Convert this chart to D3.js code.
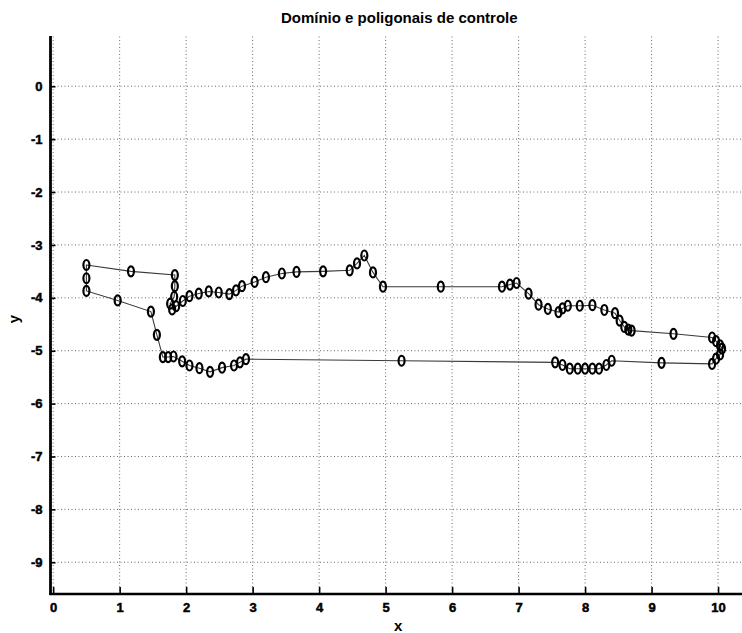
<!DOCTYPE html>
<html>
<head>
<meta charset="utf-8">
<script src="https://cdn.jsdelivr.net/npm/d3@7"></script>
<style>
  html, body { margin: 0; padding: 0; background: #fff; }
  svg { display: block; }
  text { font-family: "Liberation Sans", Arial, sans-serif; fill: #000; }
</style>
</head>
<body>
<svg id="chart" width="742" height="633"></svg>
<script>
// Boundary of the domain, traced clockwise from the upper-left corner
const boundaryX = [
  0.50, 1.17, 1.83, 1.83, 1.82, 1.76, 1.85, 1.79, 1.95, 2.05, 2.19, 2.34, 2.49, 2.65,
  2.75, 2.84, 3.03, 3.20, 3.44, 3.66, 4.06, 4.46, 4.57, 4.68, 4.81, 4.96, 5.83, 6.75,
  6.87, 6.97, 7.15, 7.30, 7.44, 7.60, 7.66, 7.74, 7.92, 8.11, 8.29, 8.45, 8.52, 8.59,
  8.65, 8.70, 9.33, 9.91, 9.97, 10.03, 10.06, 10.03, 9.97, 9.91,
  9.15, 8.40, 8.32, 8.21, 8.11, 8.00, 7.89, 7.77, 7.66, 7.55, 5.24, 2.90, 2.81, 2.72,
  2.54, 2.36, 2.20, 2.05, 1.94, 1.81, 1.73, 1.65, 1.56, 1.47, 0.97, 0.50, 0.50
];
const boundaryY = [
  -3.38, -3.50, -3.57, -3.78, -3.98, -4.11, -4.16, -4.22, -4.06, -3.97, -3.92, -3.88, -3.90, -3.93,
  -3.86, -3.78, -3.70, -3.61, -3.54, -3.51, -3.50, -3.48, -3.35, -3.20, -3.52, -3.79, -3.79, -3.79,
  -3.75, -3.72, -3.92, -4.13, -4.21, -4.27, -4.20, -4.15, -4.15, -4.14, -4.23, -4.29, -4.43, -4.55,
  -4.60, -4.62, -4.68, -4.75, -4.82, -4.90, -4.96, -5.07, -5.15, -5.25,
  -5.23, -5.19, -5.27, -5.34, -5.34, -5.34, -5.34, -5.34, -5.27, -5.22, -5.19, -5.16, -5.22, -5.28,
  -5.32, -5.40, -5.33, -5.28, -5.20, -5.11, -5.12, -5.12, -4.70, -4.26, -4.05, -3.87, -3.63
];

const xTicks = [0, 1, 2, 3, 4, 5, 6, 7, 8, 9, 10];
const yTicks = [0, -1, -2, -3, -4, -5, -6, -7, -8, -9];

const titleText = "Domínio e poligonais de controle";
const xLabel = "x";
const yLabel = "y";

const svg = d3.select("#chart");

const x = d3.scaleLinear().domain([-0.04, 10.36]).range([50.5, 742]);
const y = d3.scaleLinear().domain([-9.6, 0.95]).range([594, 36]);

const [x0, x1] = x.range();
const [yb, yt] = y.range();

// dotted grid
const grid = svg.append("g")
  .attr("stroke", "#6a6a6a")
  .attr("stroke-width", 1)
  .attr("stroke-dasharray", "1,2.5");
grid.selectAll("line.v").data(xTicks).join("line")
  .attr("class", "v")
  .attr("x1", d => x(d)).attr("x2", d => x(d))
  .attr("y1", yb).attr("y2", yt);
grid.selectAll("line.h").data(yTicks).join("line")
  .attr("class", "h")
  .attr("x1", x0).attr("x2", x1)
  .attr("y1", d => y(d)).attr("y2", d => y(d));

// axes: ticks point inward, labels in bold
const xAxis = d3.axisBottom(x).tickValues(xTicks).tickSize(-7).tickPadding(9)
  .tickFormat(d => String(d));
const yAxis = d3.axisLeft(y).tickValues(yTicks).tickSize(-5).tickPadding(8)
  .tickFormat(d => String(d));

const gx = svg.append("g").attr("transform", `translate(0,${yb})`).call(xAxis);
const gy = svg.append("g").attr("transform", `translate(${x0},0)`).call(yAxis);

[gx, gy].forEach(g => {
  g.select(".domain").remove();
  g.selectAll(".tick line").attr("stroke", "#000").attr("stroke-width", 1.6);
  g.selectAll(".tick text")
    .attr("font-size", 13)
    .attr("font-weight", "bold")
    .attr("fill", "#000")
    .attr("stroke", "#000")
    .attr("stroke-width", 0.5);
});
gx.selectAll(".tick text").attr("dy", "0.71em");

// axis lines
svg.append("line")
  .attr("x1", x0).attr("x2", x0).attr("y1", yt).attr("y2", yb + 1)
  .attr("stroke", "#000").attr("stroke-width", 2.8);
svg.append("line")
  .attr("x1", x0 - 1).attr("x2", x1).attr("y1", yb).attr("y2", yb)
  .attr("stroke", "#000").attr("stroke-width", 2.4);

// control polygon of the boundary
const pts = boundaryX.map((v, i) => [v, boundaryY[i]]);
const line = d3.line().x(d => x(d[0])).y(d => y(d[1])).curve(d3.curveLinearClosed);
svg.append("path")
  .datum(pts)
  .attr("d", line)
  .attr("fill", "none")
  .attr("stroke", "#3a3a3a")
  .attr("stroke-width", 1.1);

// circle markers
svg.append("g").selectAll("ellipse").data(pts).join("ellipse")
  .attr("cx", d => x(d[0]))
  .attr("cy", d => y(d[1]))
  .attr("rx", 3)
  .attr("ry", 5)
  .attr("fill", "none")
  .attr("stroke", "#000")
  .attr("stroke-width", 2.2);

// title and axis labels
const midX = (x0 + x1) / 2;
svg.append("text")
  .attr("x", midX + 3).attr("y", 23)
  .attr("text-anchor", "middle")
  .attr("font-size", 15).attr("font-weight", "bold")
  .text(titleText);
svg.append("text")
  .attr("x", midX + 2).attr("y", 631)
  .attr("text-anchor", "middle")
  .attr("font-size", 15).attr("font-weight", "bold")
  .text(xLabel);
svg.append("text")
  .attr("transform", `translate(19,${y(-4.4)}) rotate(-90)`)
  .attr("text-anchor", "middle")
  .attr("font-size", 15).attr("font-weight", "bold")
  .text(yLabel);
</script>
</body>
</html>
